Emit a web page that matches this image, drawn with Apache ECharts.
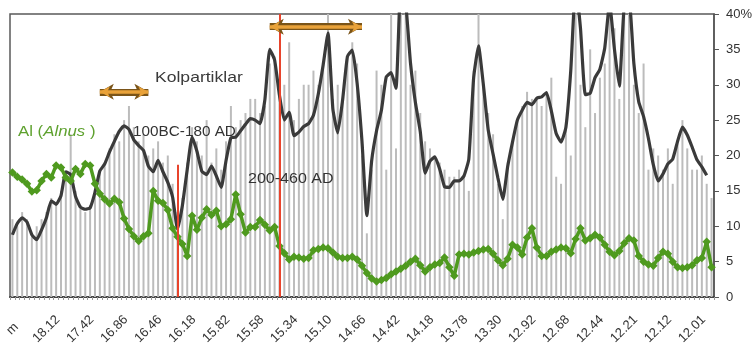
<!DOCTYPE html>
<html>
<head>
<meta charset="utf-8">
<script src="https://cdn.jsdelivr.net/npm/echarts@6/dist/echarts.min.js"></script>
<style>
html,body{margin:0;padding:0;background:#fff;}
#chart{width:755px;height:353px;}
</style>
</head>
<body>
<div id="chart"></div>
<script>
// Tick labels shown every 7th sample (depth in m)
const tickLabels = ['m','18.12','17.42','16.86','16.46','16.18','15.82','15.58','15.34','15.10','14.66','14.42','14.18','13.78','13.30','12.92','12.68','12.44','12.21','12.12','12.01'];
const sampleCount = 145;
const categories = Array.from({length: sampleCount}, (_, i) => String(i));

// Kolpartiklar (charcoal particles) %
const kolpartiklar = [8.8,10.4,11.2,10.6,8.8,8.1,9.5,11.2,13.6,13.1,
14.3,17.7,17.3,14.2,12.7,12.4,12.6,14.8,17.8,18.8,
20.5,22.0,23.4,24.2,23.7,22.2,21.4,20.7,18.5,17.7,
19.3,17.7,16.2,14.1,9.6,12.9,18.0,22.6,20.6,17.8,
17.3,18.5,17.1,15.5,19.3,22.5,22.6,23.5,24.4,25.2,
25.0,24.5,27.9,35.0,33.5,28.5,25.0,26.1,22.8,23.3,
24.1,24.5,25.7,28.7,32.8,37.3,26.6,23.2,27.8,34.0,
34.9,30.2,22.0,11.5,19.3,23.5,26.4,31.1,31.7,29.5,
44,41.5,33,27.5,23.4,17.5,19.2,19.8,18.1,15.6,
15.5,16.4,16.4,17.1,19.5,31.0,35.5,30.0,23.6,20.2,
16.8,13.8,18.4,21.9,25.0,26.4,27.5,27.2,28.1,28.3,
28.9,26.3,23.1,21.9,24.0,32,44,38,28.6,28.8,
31.0,32.2,35.2,41.5,35.0,29.8,41,42,33,27.6,
25.5,22.4,18.7,16.4,17.4,18.8,19.5,22.0,24.0,22.9,
21.2,19.4,18.4,17.2,null];

// Al (Alnus) %
const alnus = [17.6,17.0,16.6,16.0,14.9,15.1,16.4,17.4,16.9,18.6,
18.3,16.9,16.4,18.1,17.4,18.8,18.6,16.0,14.6,13.8,
13.2,13.9,13.4,11.1,9.6,8.6,7.9,8.6,9.0,15.0,
13.6,13.3,12.3,9.7,8.5,7.5,5.8,11.5,9.5,11.2,
12.4,11.6,12.2,10.0,10.3,11.0,14.5,11.7,9.1,9.9,
9.9,10.9,10.2,9.4,9.9,7.2,6.2,5.3,5.7,5.6,
5.4,5.5,6.6,6.8,7.0,6.9,6.3,5.7,5.5,5.5,
5.7,5.3,4.4,3.4,2.6,2.2,2.4,2.7,3.2,3.6,
4.0,4.4,5.0,5.4,4.5,3.6,4.2,4.6,4.8,5.6,
4.2,3.0,6.0,6.1,6.0,6.3,6.5,6.7,6.8,6.1,
5.2,4.5,5.4,7.4,7.0,6.0,8.4,9.7,7.0,5.8,
5.8,6.4,6.7,7.0,6.9,6.2,8.2,9.7,8.0,8.3,
8.8,8.4,7.4,6.4,5.9,6.5,7.6,8.3,8.0,5.8,
5.0,4.6,4.4,5.5,6.4,6.1,5.0,4.2,4.1,4.2,
4.5,5.2,5.5,7.8,4.2];

// Background grey bars %
const greyBars = [11,10,12,11,9,10,11,12,14,13,
15,17,23,15,13,12,13,15,18,19,
21,23,22,25,27,24,22,23,20,21,
22,19,20,16,12,14,19,24,22,20,
25,19,21,18,22,27,24,25,26,28,
28,26,27,33,34,30,30,36,25,28,
30,30,32,30,33,40,28,30,28,34,
36,33,20,9,18,32,30,18,40,21,
40,40,30,32,26,22,21,20,19,18,
17,17,18,17,15,32,40,30,26,23,
16,11,19,22,25,27,29,28,28,27,
29,31,17,16,24,20,40,30,24,35,
26,31,33,40,38,28,40,40,30,26,
33,18,21,20,18,21,16,22,25,21,
18,18,20,16,14];

// Event markers (sample index) and period arrows [startIdx, endIdx, level]
const redLineFull = 55;
const redLinePartial = [34, 18.7];
const periodArrows = [[18, 28, 29.0], [53, 72, 38.2]];

const chart = echarts.init(document.getElementById('chart'), null, {renderer: 'canvas'});
const font = 'Liberation Sans, Arial, sans-serif';

const arrowData = () => periodArrows.map(a => [{coord: [a[0], a[2]]}, {coord: [a[1], a[2]]}]);

const option = {
  animation: false,
  grid: {left: 10, right: 40, top: 14, bottom: 56, show: true, borderColor: '#5a5a5a', borderWidth: 1.5, backgroundColor: '#fff'},
  xAxis: {
    type: 'category', data: categories, boundaryGap: true,
    axisLine: {lineStyle: {color: '#444', width: 2}},
    axisTick: {show: true, interval: 0, length: 3, lineStyle: {color: '#999'}},
    axisLabel: {
      interval: 6, rotate: 45, align: 'center', verticalAlign: 'middle', margin: 32,
      fontSize: 13, color: '#333', fontFamily: font,
      formatter: (v, i) => (i % 7 === 0 && tickLabels[i / 7] !== undefined) ? tickLabels[i / 7] : ''
    },
    splitLine: {show: false}
  },
  yAxis: {
    type: 'value', position: 'right', min: 0, max: 40, interval: 5,
    axisLine: {show: true, lineStyle: {color: '#555', width: 1.5}},
    axisTick: {show: true, length: 5, lineStyle: {color: '#555'}},
    axisLabel: {margin: 12, fontSize: 13, color: '#333', fontFamily: font,
      formatter: v => v === 40 ? '40%' : String(v)},
    splitLine: {show: false}
  },
  series: [
    {
      type: 'bar', data: greyBars, barWidth: 2, silent: true, z: 1,
      itemStyle: {color: '#bcbcbc'},
      markLine: {
        silent: true, symbol: 'none', label: {show: false},
        lineStyle: {color: '#e8442c', width: 2, type: 'solid'},
        data: [
          [{coord: [redLinePartial[0], 0]}, {coord: [redLinePartial[0], redLinePartial[1]]}],
          [{coord: [redLineFull, 0]}, {coord: [redLineFull, 40]}]
        ]
      }
    },
    {
      type: 'line', data: kolpartiklar, symbol: 'none', smooth: 0.15, z: 3, silent: true,
      lineStyle: {color: '#3a3a3a', width: 3.2},
      markLine: {
        silent: true, symbol: ['arrow', 'arrow'], symbolSize: [12, 14], label: {show: false},
        lineStyle: {color: '#7a5418', width: 7, type: 'solid'},
        data: arrowData()
      }
    },
    {
      type: 'line', data: alnus, symbol: 'diamond', symbolSize: 8.5, showAllSymbol: true, z: 4, silent: true,
      itemStyle: {color: '#4f9a1f'},
      lineStyle: {color: '#4f9a1f', width: 3.5},
      markLine: {
        silent: true, symbol: ['arrow', 'arrow'], symbolSize: [8, 10], label: {show: false},
        lineStyle: {color: '#e9a23a', width: 3.5, type: 'solid'},
        data: arrowData()
      }
    }
  ],
  graphic: [
    {type: 'text', x: 155, y: 78, scaleX: 1.17, z: 10, silent: true, style: {text: 'Kolpartiklar', fill: '#3a3a3a', font: '15px ' + font, verticalAlign: 'middle'}},
    {type: 'text', x: 133, y: 132, scaleX: 1.02, z: 10, silent: true, style: {text: '100BC-180 AD', fill: '#333', font: '15px ' + font, verticalAlign: 'middle'}},
    {type: 'text', x: 248, y: 179, scaleX: 1.07, z: 10, silent: true, style: {text: '200-460 AD', fill: '#333', font: '15px ' + font, verticalAlign: 'middle'}},
    {type: 'text', x: 18, y: 132, scaleX: 1.12, z: 10, silent: true, style: {
      text: '{a|Al (}{b|Alnus}{a| )}', verticalAlign: 'middle',
      rich: {
        a: {fill: '#5ea12e', color: '#5ea12e', fontSize: 15, fontFamily: font},
        b: {fill: '#5ea12e', color: '#5ea12e', fontSize: 15, fontFamily: font, fontStyle: 'italic'}
      }
    }}
  ]
};
chart.setOption(option);
</script>
</body>
</html>
